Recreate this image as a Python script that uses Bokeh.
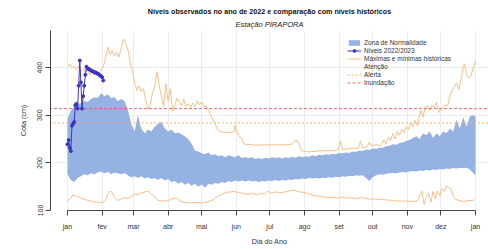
from bokeh.plotting import figure
from bokeh.models import (Range1d, FixedTicker, Title, Legend, LegendItem)
from bokeh.embed import file_html
from bokeh.resources import INLINE

# ---------------- data ----------------
month_days = [0, 31, 59, 90, 120, 151, 181, 212, 243, 273, 304, 334, 365]
month_labels = ["jan", "fev", "mar", "abr", "mai", "jun", "jul", "ago", "set", "out", "nov", "dez", "jan"]
y_ticks = [100, 200, 300, 400]

band_day = [0, 3, 6, 9, 12, 15, 18, 21, 24, 27, 30, 33, 36, 39, 42, 45, 48, 51, 54, 57, 60, 63, 66, 69,
            72, 75, 78, 81, 84, 87, 90, 93, 96, 99, 102, 105, 108, 111, 114, 117, 120, 123, 126, 129,
            132, 135, 138, 141, 144, 147, 150, 153, 156, 159, 162, 165, 168, 171, 174, 177, 180, 183,
            186, 189, 192, 195, 198, 201, 204, 207, 210, 213, 216, 219, 222, 225, 228, 231, 234, 237,
            240, 243, 246, 249, 252, 255, 258, 261, 264, 267, 270, 273, 276, 279, 282, 285, 288, 291,
            294, 297, 300, 303, 306, 309, 312, 315, 318, 321, 324, 327, 330, 333, 336, 339, 342, 345,
            348, 351, 354, 357, 360, 363, 365]
band_hi = [292, 310, 318, 322, 326, 330, 328, 334, 338, 336, 346, 340, 344, 336, 338, 330, 334, 330,
           312, 282, 266, 300, 272, 262, 270, 266, 276, 282, 286, 272, 266, 270, 262, 264, 260, 256,
           250, 240, 226, 224, 220, 218, 222, 216, 218, 214, 216, 212, 216, 214, 212, 216, 210, 212,
           210, 212, 208, 210, 208, 211, 209, 212, 210, 212, 209, 212, 210, 213, 211, 214, 212, 214,
           213, 216, 214, 217, 216, 218, 217, 219, 218, 221, 220, 222, 221, 224, 223, 226, 225, 228,
           227, 230, 229, 232, 232, 235, 236, 239, 238, 242, 243, 246, 248, 252, 256, 250, 262, 258,
           266, 252, 262, 256, 266, 262, 272, 266, 290, 272, 296, 276, 298, 300, 298]
band_lo = [176, 164, 160, 168, 172, 176, 174, 178, 176, 180, 182, 178, 181, 176, 180, 178, 176, 178,
           174, 170, 172, 168, 172, 167, 170, 166, 168, 164, 168, 163, 166, 160, 162, 156, 160, 154,
           158, 152, 156, 150, 155, 148, 156, 154, 158, 156, 160, 158, 162, 160, 163, 161, 163, 161,
           163, 161, 162, 160, 162, 161, 163, 162, 164, 162, 164, 163, 165, 164, 166, 165, 167, 166,
           168, 167, 168, 167, 169, 168, 170, 169, 171, 170, 172, 171, 173, 172, 174, 173, 174, 168,
           162, 170, 174, 176, 175, 177, 178, 179, 178, 180, 181, 180, 182, 183, 182, 184, 183, 185,
           184, 186, 185, 187, 186, 188, 187, 189, 188, 190, 189, 190, 186, 178, 174]

max_day = [0, 2, 4, 6, 8, 10, 12, 14, 16, 18, 20, 22, 24, 26, 28, 30, 32, 34, 36, 38, 40, 42, 44, 46,
           48, 50, 52, 54, 56, 58, 60, 62, 64, 66, 68, 70, 72, 74, 76, 78, 80, 82, 84, 86, 88, 90, 92,
           94, 96, 98, 100, 102, 104, 106, 108, 110, 112, 114, 116, 118, 120, 122, 124, 126, 128, 130,
           132, 134, 136, 138, 142, 146, 149, 150, 151, 153, 156, 158, 160, 164, 168, 175, 185, 195,
           200, 203, 205, 207, 209, 215, 225, 235, 242, 244, 246, 252, 256, 260, 262, 264, 268, 270,
           272, 276, 280, 283, 285, 287, 289, 291, 293, 295, 297, 299, 301, 303, 305, 307, 309, 311,
           313, 315, 316, 318, 320, 322, 324, 326, 328, 330, 332, 334, 336, 338, 340, 342, 344, 346,
           348, 350, 352, 354, 355, 357, 359, 361, 363, 365]
max_val = [401, 408, 400, 403, 396, 404, 392, 398, 390, 394, 385, 392, 383, 390, 386, 396, 402, 420,
           443, 428, 436, 424, 432, 422, 440, 460, 452, 438, 412, 394, 370, 352, 362, 350, 356, 330,
           313, 322, 346, 360, 392, 362, 340, 318, 366, 330, 356, 309, 320, 336, 328, 320, 334, 318,
           324, 316, 326, 318, 330, 322, 328, 318, 320, 310, 300, 292, 282, 272, 266, 265, 264, 264,
           266, 280, 268, 258, 250, 240, 238, 239, 237, 238, 238, 238, 239, 246, 248, 240, 226, 223,
           225, 226, 227, 246, 228, 230, 231, 230, 246, 231, 234, 243, 236, 238, 236, 248, 240, 254,
           246, 262, 250, 266, 258, 270, 264, 276, 270, 284, 276, 290, 278, 300, 310, 296, 318, 320,
           310, 322, 316, 327, 306, 312, 318, 322, 320, 340, 352, 360, 368, 354, 375, 400, 408, 384,
           378, 383, 400, 414]

min_day = [0, 3, 5, 8, 12, 16, 20, 24, 28, 31, 34, 36, 38, 40, 42, 45, 48, 51, 54, 57, 60, 63, 66, 69,
           72, 75, 78, 81, 85, 90, 94, 98, 101, 105, 110, 115, 120, 125, 128, 131, 134, 137, 141, 145,
           149, 153, 157, 161, 165, 169, 173, 176, 179, 182, 186, 190, 194, 198, 202, 206, 210, 214,
           218, 222, 226, 230, 234, 238, 242, 246, 250, 254, 258, 262, 266, 270, 274, 278, 282, 286,
           290, 294, 298, 302, 306, 310, 313, 315, 317, 319, 321, 323, 325, 327, 329, 331, 333, 335,
           337, 339, 341, 343, 345, 347, 349, 352, 355, 358, 361, 364]
min_val = [120, 126, 133, 130, 126, 123, 120, 118, 117, 116, 122, 134, 141, 138, 128, 121, 124, 127,
           125, 130, 135, 133, 137, 139, 141, 134, 128, 121, 120, 121, 125, 126, 120, 117, 116, 117,
           116, 118, 120, 124, 129, 133, 137, 139, 140, 138, 136, 134, 136, 133, 136, 134, 141, 136,
           139, 137, 139, 141, 143, 140, 138, 136, 133, 131, 130, 128, 127, 127, 126, 128, 126, 127,
           125, 127, 126, 124, 124, 123, 123, 122, 121, 120, 120, 120, 119, 119, 120, 130, 141, 113,
           128, 137, 117, 140, 124, 141, 131, 146, 140, 151, 148, 145, 130, 124, 122, 120, 119, 121,
           121, 122]

obs_day = list(range(0, 33))
obs_val = [239, 248, 232, 225, 278, 282, 286, 321, 324, 314, 362, 415, 369, 314, 340, 362, 385, 402,
           398, 397, 396, 394, 393, 392, 390, 390, 389, 387, 386, 384, 382, 380, 373]

inundacao = 314
alerta = 284

# ---------------- figure ----------------
FONT = "Liberation Sans"
p = figure(width=488, height=249, output_backend="svg", toolbar_location=None,
           x_range=Range1d(-15.2, 376.6), y_range=Range1d(100, 478),
           min_border_left=50, min_border_right=0, min_border_top=30, min_border_bottom=39,
           background_fill_color="white", border_fill_color="white", outline_line_color=None)

p.add_layout(Title(text="Estação PIRAPORA", text_font=FONT, text_font_style="italic",
                   text_font_size="7.5px", align="center", text_color="#222", standoff=4, offset=0), "above")
p.add_layout(Title(text="Níveis observados no ano de 2022 e comparação com níveis históricos",
                   text_font=FONT, text_font_style="bold", text_font_size="7.2px", align="center",
                   text_color="#111", standoff=0, offset=0), "above")

# axes
p.xaxis.ticker = FixedTicker(ticks=month_days)
p.xaxis.major_label_overrides = {d: l for d, l in zip(month_days, month_labels)}
p.xaxis.bounds = (month_days[0], month_days[-1])
p.yaxis.ticker = FixedTicker(ticks=y_ticks)
p.yaxis.major_label_orientation = "vertical"
for ax in (p.xaxis[0], p.yaxis[0]):
    ax.axis_line_color = "#444"
    ax.axis_line_width = 1
    ax.major_tick_line_color = "#444"
    ax.minor_tick_line_color = None
    ax.major_tick_in = 0
    ax.major_tick_out = 5
    ax.major_label_text_font = FONT
    ax.major_label_text_font_size = "7px"
    ax.major_label_text_color = "#333"
    ax.axis_label_text_font = FONT
    ax.axis_label_text_font_size = "7.2px"
    ax.axis_label_text_font_style = "normal"
    ax.axis_label_text_color = "#333"
p.xaxis.axis_label = "Dia do Ano"
p.yaxis.axis_label = "Cota (cm)"
p.xaxis.major_label_standoff = 7
p.xaxis.axis_label_standoff = 4
p.yaxis.major_label_standoff = 3
p.yaxis.axis_label_standoff = 7

p.xgrid.ticker = FixedTicker(ticks=month_days)
p.ygrid.ticker = FixedTicker(ticks=y_ticks)
p.grid.grid_line_color = "#ececec"
p.grid.grid_line_width = 1

# glyphs
band = p.varea(x=band_day, y1=band_lo, y2=band_hi, fill_color="#96B2E2", fill_alpha=1.0)
orange = "#F8BC82"
mx = p.line(max_day, max_val, line_color=orange, line_width=1, line_alpha=0.95)
mn = p.line(min_day, min_val, line_color=orange, line_width=1, line_alpha=0.95)

xs_thr = [band_day[0] - 30, band_day[-1] + 30]
aten = p.line(x=[], y=[], line_color="#F6E08A", line_width=1)
aler = p.line(xs_thr, [alerta, alerta], line_color="#F3A862", line_width=0.9, line_dash="2 2")
inun = p.line(xs_thr, [inundacao, inundacao], line_color="#E8555A", line_width=0.9, line_dash="3 2")

obs_l = p.line(obs_day, obs_val, line_color="#3A35C8", line_width=1)
obs_c = p.scatter(obs_day, obs_val, size=3, fill_color="#3A35C8", line_color="#3A35C8")

legend = Legend(items=[
    LegendItem(label="Zona de Normalidade", renderers=[band]),
    LegendItem(label="Níveis 2022/2023", renderers=[obs_l, obs_c]),
    LegendItem(label="Máximas e mínimas históricas", renderers=[mx]),
    LegendItem(label="Atenção", renderers=[aten]),
    LegendItem(label="Alerta", renderers=[aler]),
    LegendItem(label="Inundação", renderers=[inun]),
], location=(297, 124), padding=0, margin=0, spacing=1,
    label_text_font=FONT, label_text_font_size="6.5px", label_text_color="#333",
    label_height=7, glyph_height=7, glyph_width=14, label_standoff=3,
    background_fill_alpha=0, border_line_color=None)
p.add_layout(legend)

open("out.html", "w").write(file_html(p, INLINE))
